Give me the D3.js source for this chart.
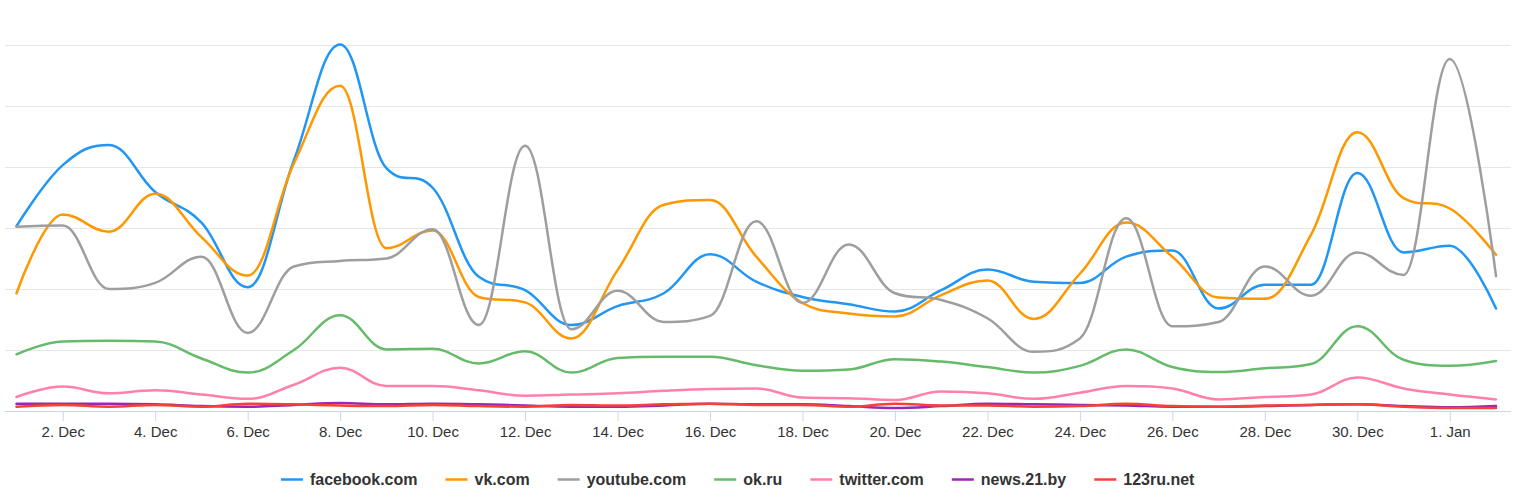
<!DOCTYPE html>
<html>
<head>
<meta charset="utf-8">
<script src="https://cdn.jsdelivr.net/npm/d3@7"></script>
<style>
  body { margin: 0; background: #fff; }
  text { font-family: "Liberation Sans", Arial, sans-serif; }
</style>
</head>
<body>
<div id="chart"></div>
<script>
// days 1 Dec .. 2 Jan
var startDay = Date.UTC(2019, 11, 1);
var dayCount = 33;
var tickDays = ["2019-12-02", "2019-12-04", "2019-12-06", "2019-12-08", "2019-12-10", "2019-12-12",
  "2019-12-14", "2019-12-16", "2019-12-18", "2019-12-20", "2019-12-22", "2019-12-24",
  "2019-12-26", "2019-12-28", "2019-12-30", "2020-01-01"];
var yTicks = [0, 100, 200, 300, 400, 500, 600];

var seriesNames = ["facebook.com", "vk.com", "youtube.com", "ok.ru", "twitter.com", "news.21.by", "123ru.net"];
var seriesColors = ["#2196f3", "#ff9800", "#9e9e9e", "#66bb6a", "#ff80ab", "#9c27b0", "#f44336"];

var facebook = [303, 403, 436, 359, 309, 203, 411, 601, 398, 366, 220, 198, 141, 172, 193, 257, 212,
  187, 175, 163, 198, 232, 212, 210, 253, 263, 168, 207, 207, 390, 260, 271, 168];
var vk = [193, 322, 294, 356, 285, 222, 406, 533, 267, 296, 187, 178, 119, 231, 338, 346, 253,
  177, 160, 155, 190, 214, 151, 225, 309, 253, 186, 184, 289, 457, 349, 332, 256];
var youtube = [302, 304, 200, 210, 253, 128, 237, 246, 250, 298, 141, 435, 134, 197, 146, 156, 311,
  177, 273, 193, 182, 152, 97, 119, 316, 139, 146, 237, 189, 260, 223, 577, 221];
var ok = [93, 114, 115, 114, 86, 63, 100, 157, 101, 102, 78, 98, 63, 87, 89, 89, 75,
  66, 68, 85, 81, 72, 63, 74, 101, 72, 64, 70, 77, 139, 84, 74, 82];
var twitter = [23, 40, 29, 34, 27, 20, 43, 71, 41, 41, 34, 25, 27, 29, 33, 36, 37,
  22, 21, 18, 32, 29, 20, 30, 41, 37, 19, 23, 27, 55, 37, 27, 19];
var news21 = [12, 12, 12, 11, 8, 7, 10, 13, 11, 12, 11, 9, 7, 7, 9, 12, 11,
  11, 8, 5, 8, 12, 11, 10, 9, 7, 7, 8, 10, 11, 8, 6, 8];
var ru123 = [7, 10, 7, 10, 7, 12, 11, 9, 8, 10, 8, 7, 10, 9, 11, 12, 10,
  10, 7, 12, 9, 9, 7, 8, 12, 8, 7, 9, 10, 11, 7, 5, 5];

var seriesValues = [facebook, vk, youtube, ok, twitter, news21, ru123];

var width = 1515, height = 502;
var svg = d3.select("#chart").append("svg")
  .attr("width", width)
  .attr("height", height);

var dayMs = 24 * 3600 * 1000;
var x = d3.scaleUtc()
  .domain([new Date(startDay), new Date(startDay + (dayCount - 1) * dayMs)])
  .range([16.5, 1496]);
var y = d3.scaleLinear().domain([0, 600]).range([411, 45]);

// grid
svg.append("g").selectAll("line")
  .data(yTicks.slice(1))
  .enter().append("line")
  .attr("x1", 5).attr("x2", 1511)
  .attr("y1", function(d) { return y(d) + 0.5; })
  .attr("y2", function(d) { return y(d) + 0.5; })
  .attr("stroke", "#e6e6e6");

// x axis
var xAxis = d3.axisBottom(x)
  .tickValues(tickDays.map(function(d) { return new Date(d + "T00:00:00Z"); }))
  .tickFormat(d3.utcFormat("%-d. %b"))
  .tickSize(10)
  .tickSizeOuter(0);

var gx = svg.append("g")
  .attr("transform", "translate(0," + 411 + ")")
  .call(xAxis);
gx.select(".domain").remove();
gx.append("line").attr("x1", 5).attr("x2", 1511).attr("y1", 0.5).attr("y2", 0.5)
  .attr("stroke", "#ccd6eb");
gx.selectAll(".tick line").attr("stroke", "#ccd6eb");
gx.selectAll(".tick text")
  .attr("y", 15)
  .attr("fill", "#333")
  .style("font-size", "15px")
  .style("font-family", "'Liberation Sans', Arial, sans-serif");

// Highcharts-style spline
function HcSpline(context) { this._context = context; }
HcSpline.prototype = {
  areaStart: function() {},
  areaEnd: function() {},
  lineStart: function() { this._pts = []; },
  point: function(px, py) { this._pts.push([+px, +py]); },
  lineEnd: function() {
    var p = this._pts, c = this._context, s = 1.5, den = s + 1;
    if (!p.length) return;
    c.moveTo(p[0][0], p[0][1]);
    var prevR = null;
    for (var i = 1; i < p.length; i++) {
      var px = p[i][0], py = p[i][1];
      var lc = [px, py], rc = null;
      if (i < p.length - 1) {
        var lx = p[i - 1][0], ly = p[i - 1][1], nx = p[i + 1][0], ny = p[i + 1][1];
        var lcx = (s * px + lx) / den, lcy = (s * py + ly) / den;
        var rcx = (s * px + nx) / den, rcy = (s * py + ny) / den;
        if (rcx !== lcx) {
          var corr = ((rcy - lcy) * (rcx - px)) / (rcx - lcx) + py - rcy;
          lcy += corr; rcy += corr;
          if (lcy > ly && lcy > py) { lcy = Math.max(ly, py); rcy = 2 * py - lcy; }
          else if (lcy < ly && lcy < py) { lcy = Math.min(ly, py); rcy = 2 * py - lcy; }
          if (rcy > ny && rcy > py) { rcy = Math.max(ny, py); lcy = 2 * py - rcy; }
          else if (rcy < ny && rcy < py) { rcy = Math.min(ny, py); lcy = 2 * py - rcy; }
        }
        lc = [lcx, lcy]; rc = [rcx, rcy];
      }
      var from = prevR || p[i - 1];
      c.bezierCurveTo(from[0], from[1], lc[0], lc[1], px, py);
      prevR = rc;
    }
  }
};
function curveHc(context) { return new HcSpline(context); }

var line = d3.line()
  .x(function(d, i) { return x(new Date(startDay + i * dayMs)); })
  .y(function(d) { return y(d); })
  .curve(curveHc);

svg.append("g").selectAll("path")
  .data(seriesValues)
  .enter().append("path")
  .attr("d", line)
  .attr("fill", "none")
  .attr("stroke", function(d, i) { return seriesColors[i]; })
  .attr("stroke-width", 2.5)
  .attr("stroke-linejoin", "round")
  .attr("stroke-linecap", "round");

// legend
var legend = svg.append("g").attr("transform", "translate(0,479)");
var items = legend.selectAll("g")
  .data(seriesNames)
  .enter().append("g");
items.append("line")
  .attr("x1", 0).attr("x2", 22).attr("y1", 0.5).attr("y2", 0.5)
  .attr("stroke", function(d, i) { return seriesColors[i]; })
  .attr("stroke-width", 2.5);
items.append("text")
  .attr("x", 29)
  .attr("y", 6)
  .attr("fill", "#333")
  .style("font-size", "16px")
  .style("font-weight", "bold")
  .text(function(d) { return d; });

var widths = [];
items.each(function() { widths.push(this.getBBox().width); });
var total = d3.sum(widths) + 28 * (widths.length - 1);
var lx = 738 - total / 2;
items.attr("transform", function(d, i) {
  var t = "translate(" + lx + ",0)";
  lx += widths[i] + 28;
  return t;
});
</script>
</body>
</html>
